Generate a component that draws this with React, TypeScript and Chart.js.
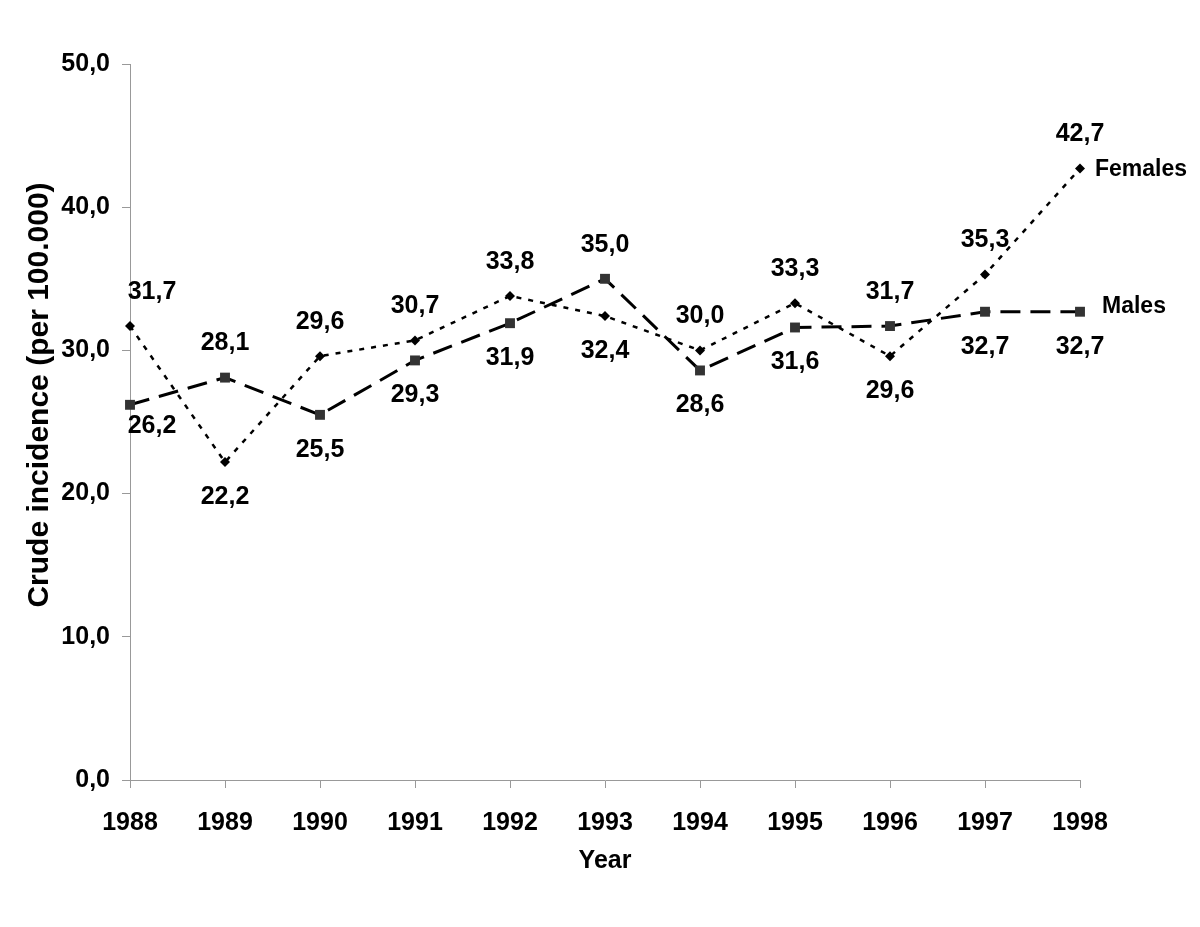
import React, { useEffect, useRef } from "react";
import { Chart, registerables } from "chart.js";

Chart.register(...registerables);

const years = ["1988", "1989", "1990", "1991", "1992", "1993", "1994", "1995", "1996", "1997", "1998"];
const females = [31.7, 22.2, 29.6, 30.7, 33.8, 32.4, 30.0, 33.3, 29.6, 35.3, 42.7];
const males = [26.2, 28.1, 25.5, 29.3, 31.9, 35.0, 28.6, 31.6, 31.7, 32.7, 32.7];
const seriesNames = ["Females", "Males"];
const yTitle = "Crude incidence (per 100.000)";
const xTitle = "Year";

const FONT = "'Liberation Sans', Arial, Helvetica, sans-serif";
const fmt = (v: number) => v.toFixed(1).replace(".", ",");

const labelPlugin = {
  id: "valueLabels",
  afterDatasetsDraw(chart: any) {
    const ctx = chart.ctx;
    ctx.save();
    ctx.font = `bold 25px ${FONT}`;
    ctx.fillStyle = "#000";
    ctx.textAlign = "center";
    ctx.textBaseline = "middle";
    const metas = [chart.getDatasetMeta(0), chart.getDatasetMeta(1)];
    const data = [females, males];
    for (let i = 0; i < years.length; i++) {
      for (let d = 0; d < 2; d++) {
        const pt = metas[d].data[i];
        const v = data[d][i];
        const other = data[1 - d][i];
        const above = v >= other;
        const dx = i === 0 ? 22 : 0;
        const dyBelow = i === 0 ? 21 : 35;
        const y = above ? pt.y - 34 : pt.y + dyBelow;
        ctx.fillText(fmt(v), pt.x + dx, y);
      }
    }
    // series names at the end of lines
    ctx.textAlign = "left";
    ctx.font = `bold 23px ${FONT}`;
    const last = years.length - 1;
    const fp = metas[0].data[last];
    const mp = metas[1].data[last];
    ctx.fillText(seriesNames[0], fp.x + 15, fp.y + 1);
    ctx.fillText(seriesNames[1], mp.x + 22, mp.y - 5);
    // y axis title
    ctx.translate(40, 395);
    ctx.rotate(-Math.PI / 2);
    ctx.textAlign = "center";
    ctx.font = `bold 30px ${FONT}`;
    ctx.fillText(yTitle, 0, 0);
    ctx.restore();
  },
};

export default function App() {
  const ref = useRef<HTMLCanvasElement>(null);
  useEffect(() => {
    document.body.style.margin = "0";
    const chart = new Chart(ref.current!, {
      type: "line",
      data: {
        labels: years,
        datasets: [
          {
            label: seriesNames[0],
            data: females,
            borderColor: "#000",
            borderWidth: 2.5,
            borderDash: [5, 7],
            pointStyle: "rectRot",
            pointRadius: 5,
            pointBackgroundColor: "#000",
            pointBorderColor: "#000",
            pointBorderWidth: 0,
            tension: 0,
          },
          {
            label: seriesNames[1],
            data: males,
            borderColor: "#000",
            borderWidth: 3,
            borderDash: [20, 10],
            pointStyle: "rect",
            pointRadius: 7,
            pointBackgroundColor: "#333",
            pointBorderColor: "#333",
            pointBorderWidth: 0,
            tension: 0,
          },
        ],
      },
      options: {
        responsive: false,
        animation: false,
        devicePixelRatio: 1,
        layout: { padding: { top: 64, right: 120, left: 0, bottom: 0 } },
        plugins: { legend: { display: false }, tooltip: { enabled: false } },
        scales: {
          x: {
            type: "category",
            offset: false,
            grid: { display: true, drawOnChartArea: false, drawTicks: true, tickLength: 8, tickColor: "#999" },
            border: { display: true, color: "#999", width: 1 },
            ticks: { color: "#000", font: { family: FONT, size: 25, weight: "bold" }, padding: 20, maxRotation: 0 },
            title: { display: true, text: xTitle, color: "#000", font: { family: FONT, size: 25, weight: "bold" }, padding: { top: 0, bottom: 51 } },
            afterFit: (s: any) => { s.height = 147; },
          },
          y: {
            min: 0,
            max: 50,
            grid: { display: true, drawOnChartArea: false, drawTicks: true, tickLength: 8, tickColor: "#999" },
            border: { display: true, color: "#999", width: 1 },
            ticks: { stepSize: 10, color: "#000", font: { family: FONT, size: 25, weight: "bold" }, padding: 12, callback: (v: any) => fmt(Number(v)) },
            title: { display: false },
            afterFit: (s: any) => { s.width = 130; },
          },
        },
      },
      plugins: [labelPlugin],
    });
    return () => chart.destroy();
  }, []);
  return (
    <div style={{ position: "absolute", left: 0, top: 0, width: 1200, height: 927, background: "#fff" }}>
      <canvas ref={ref} width={1200} height={927} style={{ width: 1200, height: 927 }} />
    </div>
  );
}
